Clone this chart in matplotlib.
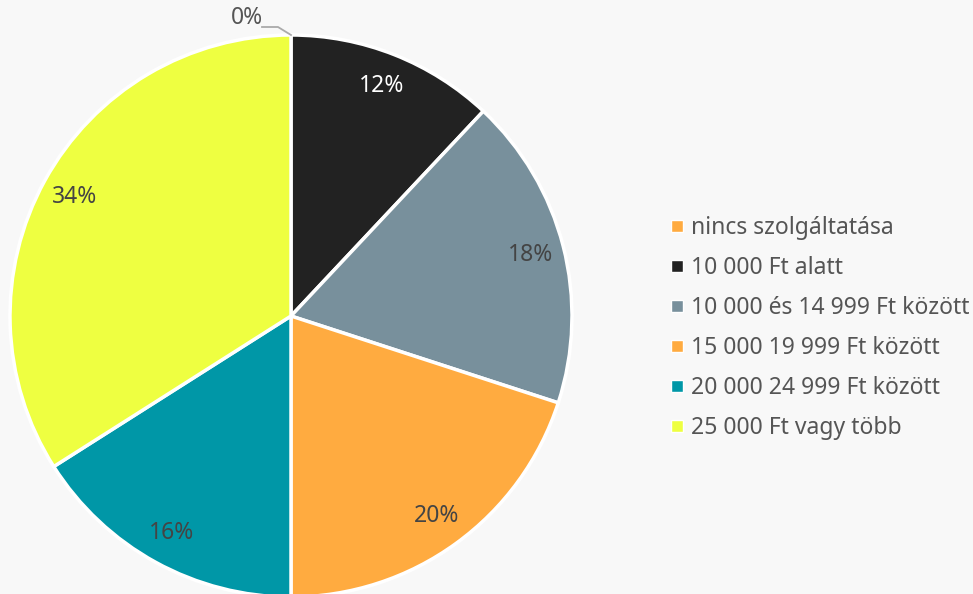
import numpy as np
import matplotlib.pyplot as plt
from matplotlib.lines import Line2D

categories = ["nincs szolgáltatása", "10 000 Ft alatt", "10 000 és 14 999 Ft között",
              "15 000 19 999 Ft között", "20 000 24 999 Ft között", "25 000 Ft vagy több"]
values = [0, 12, 18, 20, 16, 34]
colors = ["#ffab40", "#222222", "#78909c", "#ffab40", "#0097a7", "#eeff41"]
label_colors = ["#444444", "#ffffff", "#444444", "#444444", "#444444", "#444444"]

bg = "#f8f8f8"
txt = "#555555"
plt.rcParams['font.family'] = ['Noto Sans', 'DejaVu Sans']

fig = plt.figure(figsize=(9.73, 5.94), dpi=100, facecolor=bg)
ax = fig.add_axes([0, 0, 1, 1])
ax.set_facecolor(bg)

# work in pixel units, y up
cx, cy, r = 291, 594 - 316, 281
ax.pie(values, colors=colors, startangle=90, counterclock=False,
       center=(cx, cy), radius=r,
       wedgeprops=dict(edgecolor="white", linewidth=2.5))
ax.set_xlim(0, 973)
ax.set_ylim(0, 594)
ax.set_aspect("equal")
ax.axis("off")

# percentage labels
total = sum(values)
start = 0
for v, lc in zip(values, label_colors):
    mid = (start + v / 2) / total * 2 * np.pi
    start += v
    if v == 0:
        continue
    x = cx + 0.88 * r * np.sin(mid)
    y = cy + 0.88 * r * np.cos(mid)
    ax.text(x, y, f"{v}%", ha="center", va="center", fontsize=16.5, color=lc)

# 0% label with leader line
ax.plot([cx, cx - 13, cx - 29], [cy + r, cy + r + 8, cy + r + 8], color="#aaaaaa", lw=1.3)
ax.text(cx - 44, cy + r + 17, f"{values[0]}%", ha="center", va="center", fontsize=16.5, color=txt)

handles = [Line2D([], [], marker="s", linestyle="", markersize=9, color=c,
                  markeredgecolor="white", markeredgewidth=1) for c in colors]
leg = fig.legend(handles, categories, loc="center left", bbox_to_anchor=(659 / 973, 1 - 328 / 594),
                 frameon=False, fontsize=16.5, labelcolor=txt, handlelength=0.6,
                 handletextpad=0.3, labelspacing=0.69, borderpad=0)

fig.savefig("out.png", dpi=100, facecolor=bg)
